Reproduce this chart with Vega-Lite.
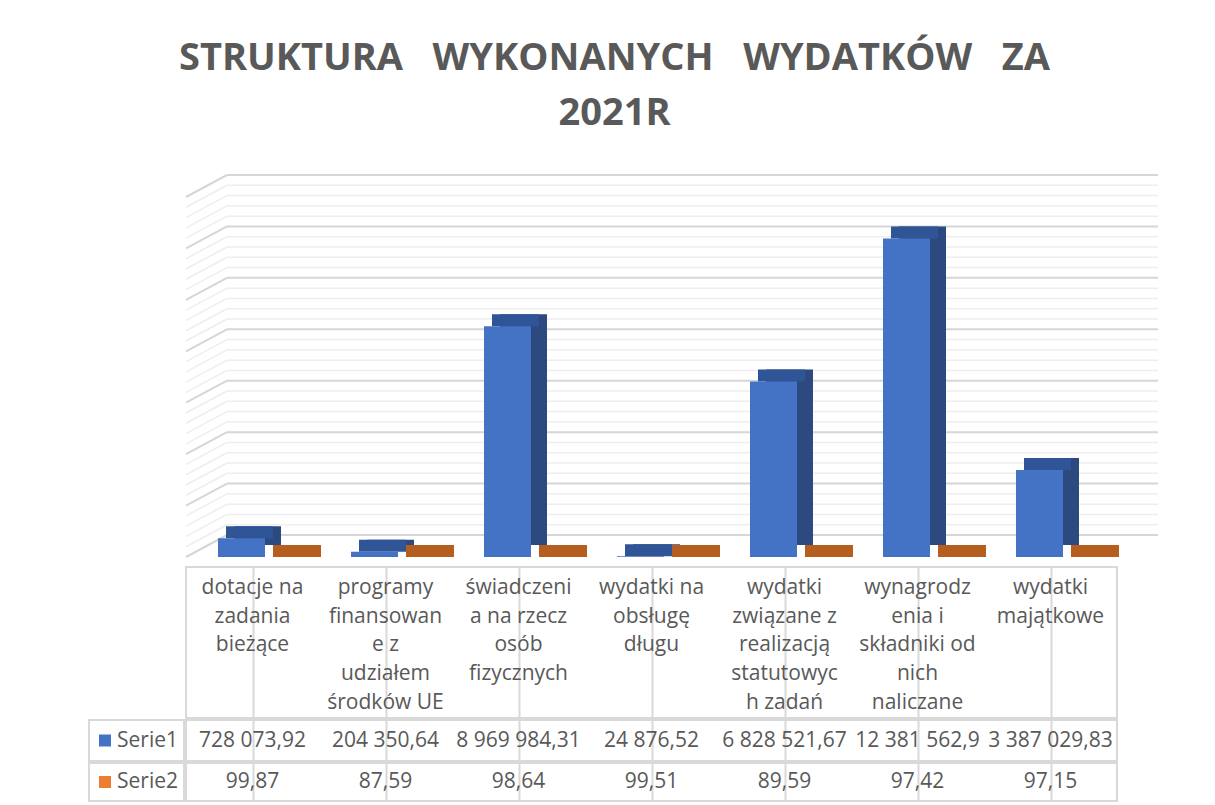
{
  "$schema": "https://vega.github.io/schema/vega-lite/v6.json",
  "background": "white",
  "padding": {"left": 88, "top": 40, "right": 0, "bottom": 0},
  "title": {
    "text": ["STRUKTURA\u00a0\u00a0\u00a0WYKONANYCH\u00a0\u00a0\u00a0WYDATKÓW\u00a0\u00a0\u00a0ZA", "2021R"],
    "font": "Open Sans",
    "fontSize": 38,
    "fontWeight": "bold",
    "color": "#595959",
    "anchor": "middle",
    "lineHeight": 55,
    "offset": 41,
    "dx": -9
  },
  "datasets": {
    "vals": [
      {"cat": "dotacje na zadania bieżące", "series": "Serie1", "value": 728073.92},
      {"cat": "programy finansowane z udziałem środków UE", "series": "Serie1", "value": 204350.64},
      {"cat": "świadczenia na rzecz osób fizycznych", "series": "Serie1", "value": 8969984.31},
      {"cat": "wydatki na obsługę długu", "series": "Serie1", "value": 24876.52},
      {"cat": "wydatki związane z realizacją statutowych zadań", "series": "Serie1", "value": 6828521.67},
      {"cat": "wynagrodzenia i składniki od nich naliczane", "series": "Serie1", "value": 12381562.9},
      {"cat": "wydatki majątkowe", "series": "Serie1", "value": 3387029.83},
      {"cat": "dotacje na zadania bieżące", "series": "Serie2", "value": 99.87},
      {"cat": "programy finansowane z udziałem środków UE", "series": "Serie2", "value": 87.59},
      {"cat": "świadczenia na rzecz osób fizycznych", "series": "Serie2", "value": 98.64},
      {"cat": "wydatki na obsługę długu", "series": "Serie2", "value": 99.51},
      {"cat": "wydatki związane z realizacją statutowych zadań", "series": "Serie2", "value": 89.59},
      {"cat": "wynagrodzenia i składniki od nich naliczane", "series": "Serie2", "value": 97.42},
      {"cat": "wydatki majątkowe", "series": "Serie2", "value": 97.15}
    ],
    "cats": [
      {"cat": "dotacje na zadania bieżące", "label": "dotacje na\nzadania\nbieżące"},
      {"cat": "programy finansowane z udziałem środków UE", "label": "programy\nfinansowan\ne z\nudziałem\nśrodków UE"},
      {"cat": "świadczenia na rzecz osób fizycznych", "label": "świadczeni\na na rzecz\nosób\nfizycznych"},
      {"cat": "wydatki na obsługę długu", "label": "wydatki na\nobsługę\ndługu"},
      {"cat": "wydatki związane z realizacją statutowych zadań", "label": "wydatki\nzwiązane z\nrealizacją\nstatutowyc\nh zadań"},
      {"cat": "wynagrodzenia i składniki od nich naliczane", "label": "wynagrodz\nenia i\nskładniki od\nnich\nnaliczane"},
      {"cat": "wydatki majątkowe", "label": "wydatki\nmajątkowe"}
    ],
    "grid": [
      {"v": 0}, {"v": 400000}, {"v": 800000}, {"v": 1200000}, {"v": 1600000},
      {"v": 2000000}, {"v": 2400000}, {"v": 2800000}, {"v": 3200000}, {"v": 3600000},
      {"v": 4000000}, {"v": 4400000}, {"v": 4800000}, {"v": 5200000}, {"v": 5600000},
      {"v": 6000000}, {"v": 6400000}, {"v": 6800000}, {"v": 7200000}, {"v": 7600000},
      {"v": 8000000}, {"v": 8400000}, {"v": 8800000}, {"v": 9200000}, {"v": 9600000},
      {"v": 10000000}, {"v": 10400000}, {"v": 10800000}, {"v": 11200000}, {"v": 11600000},
      {"v": 12000000}, {"v": 12400000}, {"v": 12800000}, {"v": 13200000}, {"v": 13600000},
      {"v": 14000000}
    ]
  },
  "columns": 2,
  "spacing": {"row": 0, "column": 0},
  "align": "each",
  "concat": [
    {
      "width": 95, "height": 369,
      "data": {"values": []},
      "mark": {"type": "text", "text": ""},
      "encoding": {}
    },
    {
      "width": 931, "height": 369,
      "layer": [
        {
          "data": {"name": "grid"},
          "mark": {"type": "rule", "xOffset": -25.5, "x2Offset": 107.5, "yOffset": -22, "y2Offset": -22},
          "encoding": {
            "x": {"datum": "dotacje na zadania bieżące"},
            "x2": {"datum": "wydatki majątkowe"},
            "y": {"field": "v", "type": "quantitative"},
            "y2": {"field": "v"},
            "color": {"condition": {"test": "datum.v % 2000000 === 0", "value": "#D6D6D6"}, "value": "#EEEEEE"},
            "strokeWidth": {"condition": {"test": "datum.v % 2000000 === 0", "value": 2}, "value": 1.5}
          }
        },
        {
          "data": {"name": "grid"},
          "mark": {"type": "rule", "xOffset": -66.5, "x2Offset": -25.5, "y2Offset": -22},
          "encoding": {
            "x": {"datum": "dotacje na zadania bieżące"},
            "x2": {"datum": "dotacje na zadania bieżące"},
            "y": {"field": "v", "type": "quantitative"},
            "y2": {"field": "v"},
            "color": {"condition": {"test": "datum.v % 2000000 === 0", "value": "#D6D6D6"}, "value": "#EEEEEE"},
            "strokeWidth": {"condition": {"test": "datum.v % 2000000 === 0", "value": 2}, "value": 1.5}
          }
        },
        {
          "data": {"name": "vals"},
          "transform": [{"filter": "datum.series === 'Serie2'"}],
          "mark": {"type": "bar", "width": 48, "xOffset": 44.5, "yOffset": -12, "color": "#B65E20"},
          "encoding": {
            "y": {"field": "value", "type": "quantitative"},
            "y2": {"field": "value"}
          }
        },
        {
          "data": {"name": "vals"},
          "transform": [{"filter": "datum.series === 'Serie1'"}],
          "mark": {"type": "bar", "width": 47, "xOffset": 5, "yOffset": -12, "y2Offset": -12, "color": "#2C4A80"},
          "encoding": {
            "y": {"field": "value", "type": "quantitative"},
            "y2": {"datum": 0}
          }
        },
        {
          "data": {"name": "vals"},
          "transform": [{"filter": "datum.series === 'Serie1'"}],
          "mark": {"type": "bar", "width": 47, "xOffset": -3, "yOffset": -12, "color": "#2F5597"},
          "encoding": {
            "y": {"field": "value", "type": "quantitative"},
            "y2": {"field": "value"}
          }
        },
        {
          "data": {"name": "vals"},
          "transform": [{"filter": "datum.series === 'Serie1'"}],
          "mark": {"type": "bar", "width": 47, "xOffset": -11, "color": "#4472C4"},
          "encoding": {
            "y": {"field": "value", "type": "quantitative"},
            "y2": {"datum": 0}
          }
        }
      ],
      "encoding": {
        "x": {"field": "cat", "type": "nominal", "sort": null, "axis": null,
              "scale": {"domain": ["dotacje na zadania bieżące", "programy finansowane z udziałem środków UE", "świadczenia na rzecz osób fizycznych", "wydatki na obsługę długu", "wydatki związane z realizacją statutowych zadań", "wynagrodzenia i składniki od nich naliczane", "wydatki majątkowe"], "paddingInner": 0, "paddingOuter": 0}},
        "y": {"type": "quantitative", "axis": null, "scale": {"domain": [-350000, 14000000], "nice": false, "zero": false}}
      }
    },
    {
      "width": 95, "height": 151,
      "data": {"values": []},
      "mark": {"type": "text", "text": ""},
      "encoding": {}
    },
    {
      "width": 931, "height": 151,
      "view": {"stroke": "#D9D9D9", "strokeWidth": 2},
      "data": {"name": "cats"},
      "mark": {"type": "text", "lineBreak": "\n", "baseline": "top", "align": "center", "font": "Open Sans", "fontSize": 21, "lineHeight": 28.7, "yOffset": 10, "color": "#595959"},
      "encoding": {
        "x": {"field": "cat", "type": "nominal", "sort": null,
              "scale": {"paddingInner": 0, "paddingOuter": 0},
              "axis": {"bandPosition": 0, "grid": true, "gridColor": "#D9D9D9", "gridWidth": 2, "labels": false, "ticks": false, "domain": false, "title": null}},
        "y": {"datum": 1, "type": "quantitative", "scale": {"domain": [0, 1]}, "axis": null},
        "text": {"field": "label"}
      }
    },
    {
      "width": 95, "height": 41,
      "view": {"stroke": "#D9D9D9", "strokeWidth": 2},
      "data": {"name": "vals"},
      "transform": [{"filter": "datum.cat === 'dotacje na zadania bieżące' && datum.series === 'Serie1'"}],
      "encoding": {
        "y": {"field": "series", "type": "nominal", "axis": null,
              "scale": {"paddingInner": 0, "paddingOuter": 0}},
        "x": {"datum": 0, "type": "quantitative", "scale": {"domain": [0, 1]}, "axis": null}
      },
      "layer": [
        {
          "mark": {"type": "point", "shape": "square", "filled": true, "size": 144, "xOffset": 16, "opacity": 1},
          "encoding": {
            "color": {"field": "series", "type": "nominal", "scale": {"domain": ["Serie1", "Serie2"], "range": ["#4472C4", "#ED7D31"]}, "legend": null}
          }
        },
        {
          "mark": {"type": "text", "align": "left", "xOffset": 28, "font": "Open Sans", "fontSize": 21, "color": "#595959"},
          "encoding": {"text": {"field": "series"}}
        }
      ]
    },
    {
      "width": 931, "height": 41,
      "view": {"stroke": "#D9D9D9", "strokeWidth": 2},
      "data": {"name": "vals"},
      "transform": [{"filter": "datum.series === 'Serie1'"}],
      "mark": {"type": "text", "align": "center", "font": "Open Sans", "fontSize": 21, "color": "#595959"},
      "encoding": {
        "x": {"field": "cat", "type": "nominal", "sort": null,
              "scale": {"paddingInner": 0, "paddingOuter": 0},
              "axis": {"bandPosition": 0, "grid": true, "gridColor": "#D9D9D9", "gridWidth": 2, "labels": false, "ticks": false, "domain": false, "title": null}},
        "y": {"field": "series", "type": "nominal", "axis": null,
              "scale": {"paddingInner": 0, "paddingOuter": 0}},
        "text": {"field": "value", "type": "quantitative", "format": ",.2~f"}
      }
    },
    {
      "width": 95, "height": 38,
      "view": {"stroke": "#D9D9D9", "strokeWidth": 2},
      "data": {"name": "vals"},
      "transform": [{"filter": "datum.cat === 'dotacje na zadania bieżące' && datum.series === 'Serie2'"}],
      "encoding": {
        "y": {"field": "series", "type": "nominal", "axis": null,
              "scale": {"paddingInner": 0, "paddingOuter": 0}},
        "x": {"datum": 0, "type": "quantitative", "scale": {"domain": [0, 1]}, "axis": null}
      },
      "layer": [
        {
          "mark": {"type": "point", "shape": "square", "filled": true, "size": 144, "xOffset": 16, "opacity": 1},
          "encoding": {
            "color": {"field": "series", "type": "nominal", "scale": {"domain": ["Serie1", "Serie2"], "range": ["#4472C4", "#ED7D31"]}, "legend": null}
          }
        },
        {
          "mark": {"type": "text", "align": "left", "xOffset": 28, "font": "Open Sans", "fontSize": 21, "color": "#595959"},
          "encoding": {"text": {"field": "series"}}
        }
      ]
    },
    {
      "width": 931, "height": 38,
      "view": {"stroke": "#D9D9D9", "strokeWidth": 2},
      "data": {"name": "vals"},
      "transform": [{"filter": "datum.series === 'Serie2'"}],
      "mark": {"type": "text", "align": "center", "font": "Open Sans", "fontSize": 21, "color": "#595959"},
      "encoding": {
        "x": {"field": "cat", "type": "nominal", "sort": null,
              "scale": {"paddingInner": 0, "paddingOuter": 0},
              "axis": {"bandPosition": 0, "grid": true, "gridColor": "#D9D9D9", "gridWidth": 2, "labels": false, "ticks": false, "domain": false, "title": null}},
        "y": {"field": "series", "type": "nominal", "axis": null,
              "scale": {"paddingInner": 0, "paddingOuter": 0}},
        "text": {"field": "value", "type": "quantitative", "format": ",.2~f"}
      }
    }
  ],
  "config": {
    "view": {"stroke": null},
    "locale": {"number": {"decimal": ",", "thousands": " ", "grouping": [3], "currency": ["", ""]}}
  }
}
